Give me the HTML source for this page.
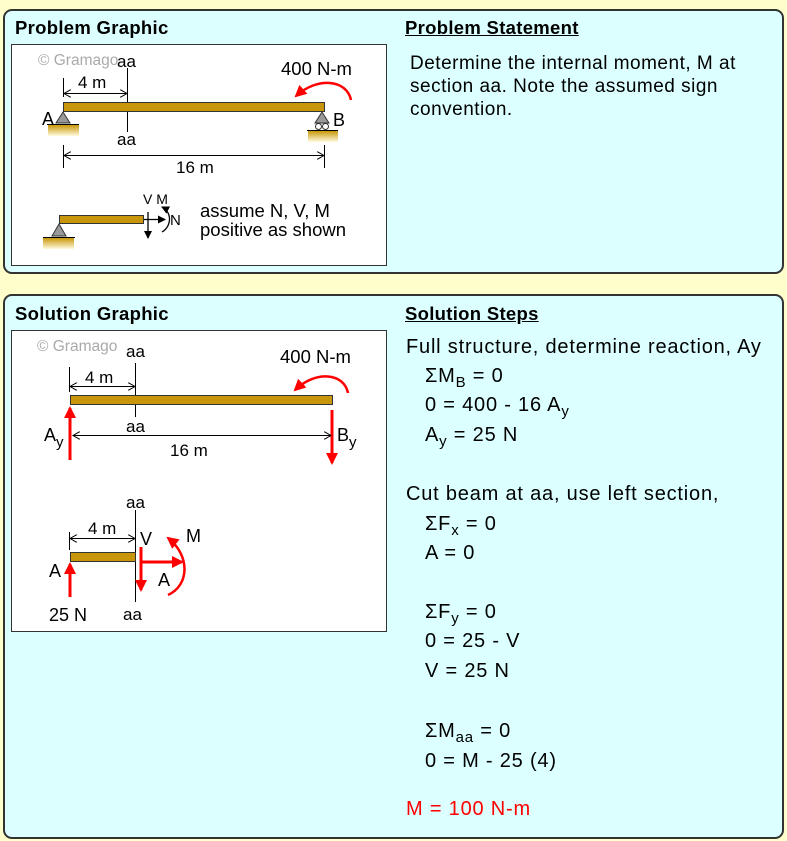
<!DOCTYPE html>
<html><head><meta charset="utf-8"><style>
body{margin:0;width:787px;height:841px;background:#ffffcc;overflow:hidden;font-family:"Liberation Sans",Arial,sans-serif}
.p{position:absolute;background:#dcffff;border:2px solid #333;border-radius:9px;box-sizing:border-box}
.t{position:absolute;font-size:19px;letter-spacing:0.5px;color:#000;white-space:nowrap;line-height:22px}
.s{font-size:20px;letter-spacing:0.8px}
.b{font-weight:bold;font-size:18.5px;letter-spacing:0.3px}
.u{text-decoration:underline}
sub{font-size:15px;vertical-align:-5px;line-height:0}
svg{position:absolute;left:0;top:0}
</style></head><body>
<div class="p" style="left:3px;top:9px;width:781px;height:265px"></div>
<div class="p" style="left:3px;top:294px;width:781px;height:545px"></div>
<div class="t b" style="left:15px;top:17px">Problem Graphic</div>
<div class="t b u" style="left:405px;top:17px">Problem Statement</div>
<div class="t" style="left:410px;top:53px">Determine the internal moment, M at</div>
<div class="t" style="left:410px;top:76px">section aa. Note the assumed sign</div>
<div class="t" style="left:410px;top:99px">convention.</div>
<div class="t b" style="left:15px;top:303px">Solution Graphic</div>
<div class="t b u" style="left:405px;top:303px">Solution Steps</div>
<div class="t s" style="left:406px;top:336px">Full structure, determine reaction, Ay</div>
<div class="t s" style="left:425px;top:365px">ΣM<sub>B</sub> = 0</div>
<div class="t s" style="left:425px;top:394px">0 = 400 - 16 A<sub>y</sub></div>
<div class="t s" style="left:425px;top:424px">A<sub>y</sub> = 25 N</div>
<div class="t s" style="left:406px;top:483px">Cut beam at aa, use left section,</div>
<div class="t s" style="left:425px;top:513px">ΣF<sub>x</sub> = 0</div>
<div class="t s" style="left:425px;top:542px">A = 0</div>
<div class="t s" style="left:425px;top:601px">ΣF<sub>y</sub> = 0</div>
<div class="t s" style="left:425px;top:630px">0 = 25 - V</div>
<div class="t s" style="left:425px;top:660px">V = 25 N</div>
<div class="t s" style="left:425px;top:720px">ΣM<sub>aa</sub> = 0</div>
<div class="t s" style="left:425px;top:750px">0 = M - 25 (4)</div>
<div class="t s" style="left:406px;top:798px;color:#f00">M = 100 N-m</div>
<svg width="787" height="841" font-family="Liberation Sans, Arial, sans-serif" font-size="17">
<defs>
<linearGradient id="g" x1="0" y1="0" x2="0" y2="1"><stop offset="0" stop-color="#c8960a"/><stop offset="1" stop-color="#fffbe0"/></linearGradient>
<marker id="ak" markerWidth="8" markerHeight="8" refX="7" refY="4" orient="auto-start-reverse" markerUnits="userSpaceOnUse"><path d="M0,0 L7,4 L0,8" fill="none" stroke="#000" stroke-width="1"/></marker>
<marker id="af" markerWidth="8" markerHeight="8" refX="7" refY="4" orient="auto" markerUnits="userSpaceOnUse"><path d="M0,0 L8,4 L0,8z" fill="#000"/></marker>
<marker id="ar" markerWidth="12" markerHeight="12" refX="10" refY="6" orient="auto" markerUnits="userSpaceOnUse"><path d="M0,0 L12,6 L0,12z" fill="#f00"/></marker>
</defs>
<rect x="11.5" y="44.5" width="375" height="221" fill="#fff" stroke="#333"/>
<rect x="11.5" y="330.5" width="375" height="301" fill="#fff" stroke="#333"/>
<!-- problem graphic -->
<text x="38" y="65" fill="#aaa" font-size="15.5">© Gramago</text>
<text x="117" y="67">aa</text>
<text x="117" y="145">aa</text>
<line x1="127.5" y1="68" x2="127.5" y2="132" stroke="#000"/>
<line x1="63.5" y1="78" x2="63.5" y2="97" stroke="#000"/>
<line x1="64" y1="93.5" x2="127" y2="93.5" stroke="#000" marker-start="url(#ak)" marker-end="url(#ak)"/>
<text x="78" y="88">4 m</text>
<rect x="63.5" y="102.5" width="261" height="9" fill="#c8960a" stroke="#333"/>
<polygon points="63,112 56,123 70,123" fill="#999" stroke="#333"/>
<text x="42" y="125" font-size="18">A</text>
<line x1="47" y1="124.5" x2="79" y2="124.5" stroke="#000"/>
<rect x="48" y="125" width="31" height="11" fill="url(#g)"/>
<polygon points="322,112 315,123 329,123" fill="#999" stroke="#333"/>
<circle cx="318.5" cy="126.5" r="3" fill="#fff" stroke="#333"/>
<circle cx="325.5" cy="126.5" r="3" fill="#fff" stroke="#333"/>
<text x="333" y="126" font-size="18">B</text>
<line x1="307" y1="130.5" x2="338" y2="130.5" stroke="#000"/>
<rect x="308" y="131" width="30" height="11" fill="url(#g)"/>
<line x1="63.5" y1="145" x2="63.5" y2="168" stroke="#000"/>
<line x1="324.5" y1="145" x2="324.5" y2="168" stroke="#000"/>
<line x1="64" y1="155.5" x2="324" y2="155.5" stroke="#000" marker-start="url(#ak)" marker-end="url(#ak)"/>
<text x="176" y="173">16 m</text>
<text x="281" y="75" font-size="18.5">400 N-m</text>
<path d="M351,100 C347,80 318,76 296,96" fill="none" stroke="#f00" stroke-width="2.5" marker-end="url(#ar)"/>
<rect x="59.5" y="215.5" width="84" height="8" fill="#c8960a" stroke="#333"/>
<polygon points="59,224 52,236 66,236" fill="#999" stroke="#333"/>
<line x1="43" y1="237.5" x2="75" y2="237.5" stroke="#000"/>
<rect x="43" y="238" width="31" height="11" fill="url(#g)"/>
<line x1="144" y1="219.5" x2="165" y2="219.5" stroke="#000" stroke-width="1.3" marker-end="url(#af)"/>
<line x1="148" y1="212" x2="148" y2="238" stroke="#000" stroke-width="1.3" marker-end="url(#af)"/>
<path d="M162,232 C172,226 172,212 162,207" fill="none" stroke="#000" stroke-width="1.3" marker-end="url(#af)"/>
<text x="143" y="204" font-size="14">V M</text>
<text x="170" y="225" font-size="15">N</text>
<text x="200" y="217" font-size="18.5">assume N, V, M</text>
<text x="200" y="236" font-size="18.5">positive as shown</text>
<!-- solution graphic -->
<text x="37" y="351" fill="#aaa" font-size="15.5">© Gramago</text>
<text x="126" y="357">aa</text>
<text x="126" y="432">aa</text>
<line x1="135.5" y1="363" x2="135.5" y2="417" stroke="#000"/>
<line x1="69.5" y1="367" x2="69.5" y2="392" stroke="#000"/>
<line x1="70" y1="386.5" x2="135" y2="386.5" stroke="#000" marker-start="url(#ak)" marker-end="url(#ak)"/>
<text x="85" y="383">4 m</text>
<rect x="70.5" y="395.5" width="262" height="9" fill="#c8960a" stroke="#333"/>
<text x="280" y="363" font-size="18.5">400 N-m</text>
<path d="M348,393 C344,373 316,370 295,390" fill="none" stroke="#f00" stroke-width="2.5" marker-end="url(#ar)"/>
<line x1="70" y1="460" x2="70" y2="408" stroke="#f00" stroke-width="3" marker-end="url(#ar)"/>
<line x1="332" y1="410" x2="332" y2="463" stroke="#f00" stroke-width="3" marker-end="url(#ar)"/>
<line x1="73" y1="435.5" x2="331" y2="435.5" stroke="#000" marker-start="url(#ak)" marker-end="url(#ak)"/>
<text x="44" y="441" font-size="18">A</text><text x="56" y="447" font-size="15">y</text>
<text x="337" y="441" font-size="18">B</text><text x="349" y="447" font-size="15">y</text>
<text x="170" y="456">16 m</text>
<text x="126" y="508">aa</text>
<line x1="135.5" y1="510" x2="135.5" y2="602" stroke="#000"/>
<line x1="69.5" y1="532" x2="69.5" y2="550" stroke="#000"/>
<line x1="70" y1="538.5" x2="135" y2="538.5" stroke="#000" marker-start="url(#ak)" marker-end="url(#ak)"/>
<text x="88" y="534">4 m</text>
<rect x="70.5" y="552.5" width="65" height="9" fill="#c8960a" stroke="#333"/>
<text x="140" y="545" font-size="18">V</text>
<line x1="141" y1="547" x2="141" y2="590" stroke="#f00" stroke-width="3" marker-end="url(#ar)"/>
<line x1="141" y1="562" x2="182" y2="562" stroke="#f00" stroke-width="3" marker-end="url(#ar)"/>
<text x="158" y="586" font-size="18">A</text>
<path d="M168,595 C190,585 190,555 168,538" fill="none" stroke="#f00" stroke-width="2.5" marker-end="url(#ar)"/>
<text x="186" y="542" font-size="18">M</text>
<line x1="70" y1="597" x2="70" y2="564" stroke="#f00" stroke-width="3" marker-end="url(#ar)"/>
<text x="49" y="577" font-size="18">A</text>
<text x="49" y="621" font-size="18">25 N</text>
<text x="123" y="620">aa</text>
</svg>
</body></html>
